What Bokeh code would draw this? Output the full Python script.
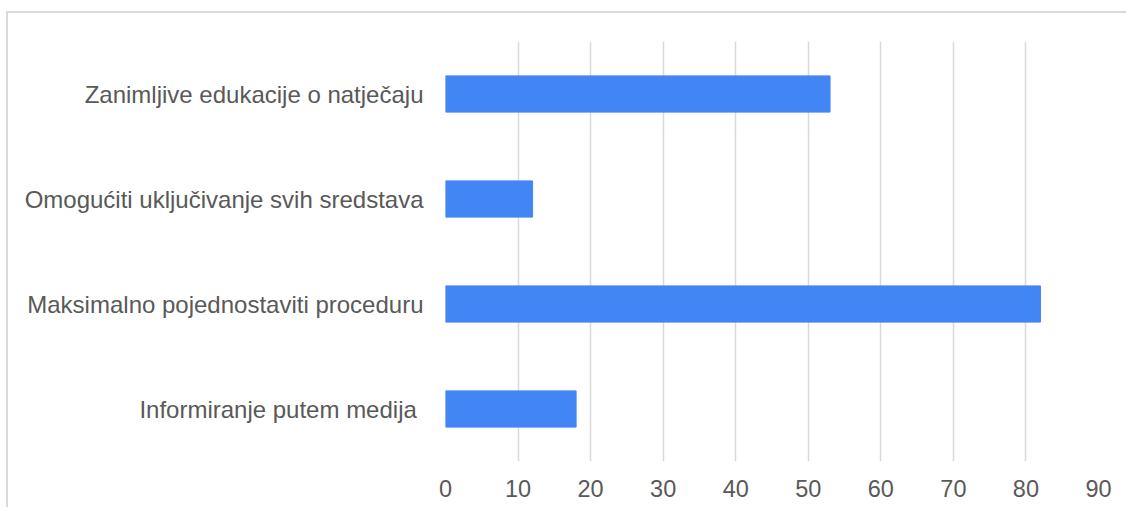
from bokeh.plotting import figure
from bokeh.models import Range1d, FactorRange, FixedTicker
from bokeh.embed import file_html
from bokeh.resources import INLINE

categories = [
    "Zanimljive edukacije o natječaju",
    "Omogućiti uključivanje svih sredstava",
    "Maksimalno pojednostaviti proceduru",
    "Informiranje putem medija ",
]
values = [53, 12, 82, 18]
x_ticks = [0, 10, 20, 30, 40, 50, 60, 70, 80, 90]

FONT = "Liberation Sans"
TEXT = "#595959"
GRID = "#d9d9d9"

p = figure(
    width=1120, height=496,
    y_range=FactorRange(factors=list(reversed(categories))),
    x_range=Range1d(0, 90),
    output_backend="svg", toolbar_location=None,
    min_border_left=437, min_border_right=30, min_border_top=28, min_border_bottom=48,
)
p.styles = {"border-top": "2px solid #d9d9d9", "border-left": "2px solid #d9d9d9",
            "margin-top": "11px", "margin-left": "6px"}
p.outline_line_color = None
p.background_fill_color = "white"
p.border_fill_color = "white"

p.hbar(y=categories, right=values, left=0, height=0.345, color="#4285F4")

p.xaxis.ticker = FixedTicker(ticks=x_ticks)
p.xgrid.ticker = FixedTicker(ticks=x_ticks)
p.xgrid.grid_line_color = GRID
p.xgrid.grid_line_width = 1.5
p.ygrid.grid_line_color = None

for ax in (p.xaxis, p.yaxis):
    ax.axis_line_color = None
    ax.major_tick_line_color = None
    ax.minor_tick_line_color = None
    ax.major_label_text_font = FONT
    ax.major_label_text_color = TEXT
p.yaxis.major_label_text_font_size = "24px"
p.xaxis.major_label_text_font_size = "23.5px"
p.xaxis.major_label_standoff = 12
p.yaxis.major_label_standoff = 16

open("out.html", "w").write(file_html(p, INLINE))
